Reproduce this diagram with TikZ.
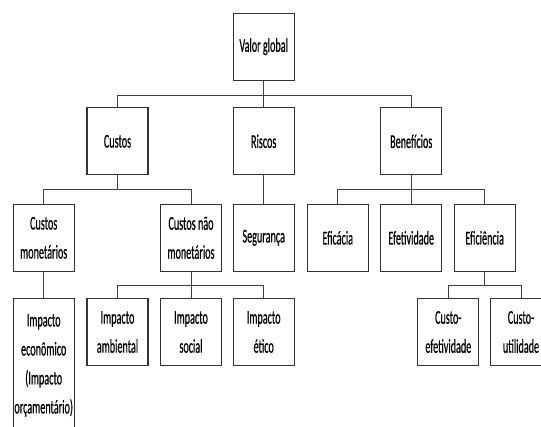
\documentclass[tikz,border=0pt]{standalone}
\usepackage{fontspec}
\setmainfont{Carlito}[FakeStretch=0.52,FakeBold=0.5]
\begin{document}
\begin{tikzpicture}[x=1pt,y=-1pt,
  box/.style={draw=black!80,line width=1.1pt,rectangle,minimum width=61pt,minimum height=67pt,
    inner sep=0pt,align=center,font=\fontsize{19.5}{29}\selectfont,text=black},
  conn/.style={draw=black!75,line width=1pt}]
\useasboundingbox (0,0) rectangle (541,427);
\clip (0,0) rectangle (541,427);
\fill[white] (0,0) rectangle (541,427);
% row 1
\node[box] (vg) at (263.7,46.7) {Valor global};
% row 2
\node[box] (cu) at (117.5,141.3) {Custos};
\node[box] (ri) at (263.7,141.3) {Riscos};
\node[box] (be) at (411.2,141.3) {Benefícios};
% row 3
\node[box] (cm) at (43.7,237.8) {Custos\\monetários};
\node[box] (cn) at (191,237.8) {Custos não\\monetários};
\node[box] (se) at (263.7,237.8) {Segurança};
\node[box] (ec) at (337.8,237.8) {Eficácia};
\node[box] (ef) at (411.2,237.8) {Efetividade};
\node[box] (ei) at (484.7,237.8) {Eficiência};
% row 4
\node[box,minimum height=134pt] (ie) at (43.7,365.3) {Impacto\\econômico\\(Impacto\\orçamentário)};
\node[box] (ia) at (117.5,332) {Impacto\\ambiental};
\node[box] (is) at (191,332) {Impacto\\social};
\node[box] (it) at (263.7,332) {Impacto\\ético};
\node[box] (ce) at (448.3,332) {Custo-\\efetividade};
\node[box] (cv) at (521,332) {Custo-\\utilidade};
% connectors
\draw[conn] (vg.south) -- ++(0,14.3) -| (cu.north);
\draw[conn] (vg.south) -- ++(0,14.3) -| (be.north);
\draw[conn] (vg.south) -- (ri.north);
\draw[conn] (cu.south) -- ++(0,14) -| (cm.north);
\draw[conn] (cu.south) -- ++(0,14) -| (cn.north);
\draw[conn] (ri.south) -- (se.north);
\draw[conn] (be.south) -- ++(0,14) -| (ec.north);
\draw[conn] (be.south) -- ++(0,14) -| (ei.north);
\draw[conn] (be.south) -- (ef.north);
\draw[conn] (cm.south) -- (ie.north);
\draw[conn] (cn.south) -- ++(0,13.3) -| (ia.north);
\draw[conn] (cn.south) -- ++(0,13.3) -| (it.north);
\draw[conn] (cn.south) -- (is.north);
\draw[conn] (ei.south) -- ++(0,13.3) -| (ce.north);
\draw[conn] (ei.south) -- ++(0,13.3) -| (cv.north);
\end{tikzpicture}
\end{document}
